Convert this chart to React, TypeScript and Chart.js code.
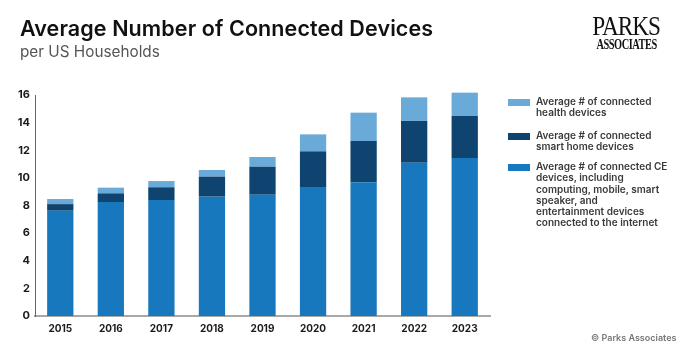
import React, { useEffect, useRef } from "react";
import { Chart, registerables } from "chart.js";

Chart.register(...registerables);

const years = ["2015", "2016", "2017", "2018", "2019", "2020", "2021", "2022", "2023"];
const ceDevices = [7.62, 8.25, 8.4, 8.64, 8.78, 9.34, 9.68, 11.1, 11.44];
const smartHome = [0.48, 0.63, 0.92, 1.45, 2.03, 2.58, 2.99, 3.02, 3.04];
const health = [0.37, 0.41, 0.45, 0.48, 0.7, 1.23, 2.05, 1.71, 1.69];
const yTicks = [0, 2, 4, 6, 8, 10, 12, 14, 16];

const legendItems = [
  { color: "#6aaad8", lines: ["Average # of connected", "health devices"] },
  { color: "#0f4470", lines: ["Average # of connected", "smart home devices"] },
  {
    color: "#1878bd",
    lines: [
      "Average # of connected CE",
      "devices, including",
      "computing, mobile, smart",
      "speaker, and",
      "entertainment devices",
      "connected to the internet",
    ],
  },
];

const FONT = "Inter, 'Noto Sans', sans-serif";

export default function App() {
  const ref = useRef<HTMLCanvasElement | null>(null);

  useEffect(() => {
    if (!ref.current) return;
    const chart = new Chart(ref.current, {
      type: "bar",
      data: {
        labels: years,
        datasets: [
          { label: "CE", data: ceDevices, backgroundColor: "#1878bd", clip: false },
          { label: "Smart home", data: smartHome, backgroundColor: "#0f4470", clip: false },
          { label: "Health", data: health, backgroundColor: "#6aaad8", clip: false },
        ],
      },
      options: {
        responsive: false,
        animation: false,
        layout: { padding: { left: 0, right: 198, top: 95, bottom: 0 } },
        plugins: { legend: { display: false }, tooltip: { enabled: false } },
        datasets: { bar: { categoryPercentage: 1, barPercentage: 0.52 } },
        scales: {
          x: {
            stacked: true,
            grid: { display: false, drawTicks: false },
            border: { display: true, color: "#a8a8a8", width: 2 },
            ticks: {
              padding: 7,
              color: "#1a1a1a",
              font: { family: FONT, size: 10, weight: "bold" },
              maxRotation: 0,
            },
            afterFit: (s: any) => {
              s.height = 42;
            },
          },
          y: {
            stacked: true,
            min: 0,
            max: 16,
            grid: { display: false, drawTicks: false },
            border: { display: true, color: "#666", width: 1, dash: [2, 2] },
            afterBuildTicks: (s: any) => {
              s.ticks = yTicks.map((v) => ({ value: v }));
            },
            ticks: {
              padding: 5,
              color: "#1a1a1a",
              font: { family: FONT, size: 11, weight: "bold" },
            },
            afterFit: (s: any) => {
              s.width = 35;
            },
          },
        },
      },
    });
    return () => chart.destroy();
  }, []);

  return (
    <div
      style={{
        position: "absolute",
        left: 0,
        top: 0,
        width: 688,
        height: 358,
        background: "#fff",
        overflow: "hidden",
        fontFamily: FONT,
      }}
    >
      <canvas ref={ref} width={688} height={358} style={{ position: "absolute", left: 0, top: 0 }} />
      <div
        style={{
          position: "absolute",
          left: 20,
          top: 15,
          fontSize: 21.5,
          fontWeight: 600,
          color: "#111",
          whiteSpace: "nowrap",
          lineHeight: "26px",
          letterSpacing: 0.1,
        }}
      >
        Average Number of Connected Devices
      </div>
      <div
        style={{
          position: "absolute",
          left: 20,
          top: 42,
          fontSize: 15.3,
          color: "#555",
          whiteSpace: "nowrap",
          lineHeight: "20px",
        }}
      >
        per US Households
      </div>
      <div
        style={{
          position: "absolute",
          left: 586,
          top: 14,
          width: 80,
          fontFamily: "'Liberation Serif', serif",
          color: "#111",
          textAlign: "center",
        }}
      >
        <div style={{ fontSize: 27, lineHeight: "25px", transform: "scaleX(0.86)", letterSpacing: -1.2 }}>PARKS</div>
        <div style={{ fontSize: 14, lineHeight: "12px", transform: "scaleX(0.74)", letterSpacing: -0.6, fontWeight: 700 }}>
          ASSOCIATES
        </div>
      </div>
      {legendItems.map((item, i) => {
        const tops = [96, 130, 161];
        return (
          <div key={i} style={{ position: "absolute", left: 508, top: tops[i] }}>
            <div
              style={{
                position: "absolute",
                left: 0,
                top: 3,
                width: 22,
                height: 7,
                background: item.color,
              }}
            />
            <div
              style={{
                position: "absolute",
                left: 28,
                top: 0,
                fontSize: 10,
                lineHeight: "11.3px",
                color: "#3a3a3a",
                fontWeight: 600,
                whiteSpace: "nowrap",
              }}
            >
              {item.lines.map((l, j) => (
                <div key={j}>{l}</div>
              ))}
            </div>
          </div>
        );
      })}
      <div
        style={{
          position: "absolute",
          left: 591,
          top: 332,
          fontSize: 9,
          color: "#777",
          fontWeight: 600,
          whiteSpace: "nowrap",
          lineHeight: "12px",
        }}
      >
        © Parks Associates
      </div>
    </div>
  );
}
